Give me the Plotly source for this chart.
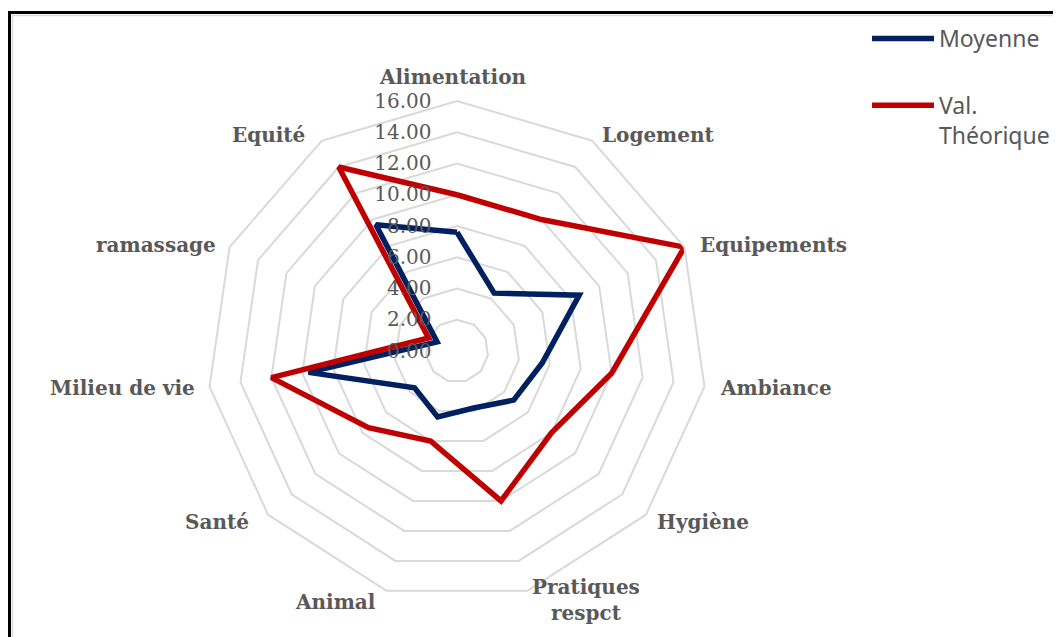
import plotly.graph_objects as go

categories = ["Alimentation", "Logement", "Equipements", "Ambiance", "Hygiène",
              "Pratiques<br>respct", "Animal", "Santé", "Milieu de vie", "ramassage", "Equité"]
moyenne = [7.6, 4.4, 8.6, 5.5, 4.8, 3.8, 4.4, 3.6, 9.6, 1.4, 9.6]
val_theorique = [10, 10, 16, 10, 8, 10, 6, 7.5, 12, 2, 14]
radial_ticks = [0, 2, 4, 6, 8, 10, 12, 14, 16]

# page offset (browser body margin) compensation
OFF = 8
W, H = 1061 - OFF, 637 - OFF
CX, CY, RAD = 457 - OFF, 351 - OFF, 250
L, T, S = CX - RAD, CY - RAD, 2 * RAD

def px(x):
    return (x - OFF - L) / S

def py(y):
    return (T + S - (y - OFF)) / S

# category label placement (screen pixels, anchor)
label_layout = [
    (453, 77, "center"), (600, 135, "left"), (698, 245, "left"), (718, 388, "left"),
    (655, 522, "left"), (586, 600, "center"), (335, 602, "center"), (251, 522, "right"),
    (197, 388, "right"), (218, 245, "right"), (307, 135, "right"),
]

fig = go.Figure()
fig.add_trace(go.Scatterpolar(
    r=moyenne + moyenne[:1], theta=categories + categories[:1],
    mode="lines", name="Moyenne", legendgroup="a",
    line=dict(color="#002060", width=5.5)))
fig.add_trace(go.Scatterpolar(
    r=val_theorique + val_theorique[:1], theta=categories + categories[:1],
    mode="lines", name="Val.<br>Théorique", legendgroup="b",
    line=dict(color="#C00000", width=5.5)))

annotations = []
for cat, (lx, ly, anc) in zip(categories, label_layout):
    annotations.append(dict(
        text=cat, xref="paper", yref="paper", x=px(lx), y=py(ly),
        xanchor=anc, yanchor="middle", showarrow=False, align="center",
        font=dict(family="DejaVu Serif", size=20, color="#595959", weight="bold")))

fig.update_layout(
    width=W, height=H,
    margin=dict(l=L, r=W - L - S, t=T, b=H - T - S, autoexpand=False),
    paper_bgcolor="white", plot_bgcolor="white",
    polar=dict(
        domain=dict(x=[0, 1], y=[0, 1]),
        bgcolor="white",
        gridshape="linear",
        angularaxis=dict(
            rotation=90, direction="clockwise", type="category",
            showgrid=False, showline=True, linecolor="#d9d9d9", linewidth=2,
            ticks="", showticklabels=False,
        ),
        radialaxis=dict(
            range=[0, 16], tickvals=radial_ticks, tickformat=".2f",
            angle=90, side="counterclockwise", tickangle=90,
            showline=False, showgrid=True, gridcolor="#d9d9d9", gridwidth=2,
            ticks="outside", ticklen=18, tickcolor="rgba(0,0,0,0)",
            tickfont=dict(family="DejaVu Serif", size=20, color="#595959"),
        ),
    ),
    annotations=annotations,
    showlegend=True,
    legend=dict(
        x=(873 - OFF - 6 - L) / S, y=(T + S - 9) / S, xanchor="left", yanchor="top",
        font=dict(family="Noto Sans", size=23, color="#595959"),
        tracegroupgap=34, valign="top", itemwidth=62,
        bgcolor="rgba(0,0,0,0)",
    ),
    shapes=[
        dict(type="rect", xref="paper", yref="paper",
             x0=px(9.5), x1=px(1090), y0=py(660), y1=py(12.5),
             line=dict(color="black", width=3), layer="below"),
        dict(type="rect", xref="paper", yref="paper",
             x0=px(12.5), x1=px(1090), y0=py(660), y1=py(15.5),
             line=dict(color="#d9d9d9", width=1.5), layer="below"),
    ],
)
fig.write_html("out.html")
